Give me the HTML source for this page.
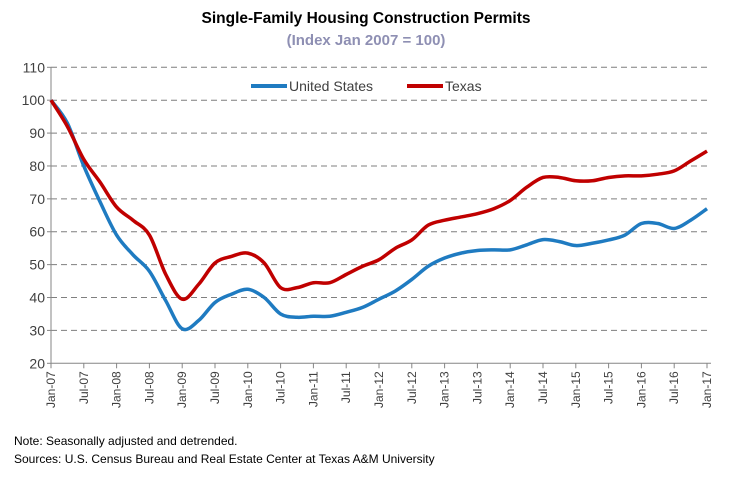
<!DOCTYPE html>
<html><head><meta charset="utf-8"><style>
body{margin:0;background:#fff;font-family:"Liberation Sans",sans-serif}
</style></head><body>
<svg width="729" height="476" viewBox="0 0 729 476" font-family="Liberation Sans, sans-serif">
<text x="366" y="23" text-anchor="middle" font-size="15.5" font-weight="bold" fill="#000">Single-Family Housing Construction Permits</text>
<text x="366" y="45" text-anchor="middle" font-size="15" font-weight="bold" fill="#8e8fb3">(Index Jan 2007 = 100)</text>
<g id="grid"></g>
<g id="axes"></g>
<g id="series"></g>
<g>
<g><line x1="251" y1="86" x2="287" y2="86" stroke="#1f7bc1" stroke-width="4"/><text x="289" y="91" font-size="14" fill="#404040">United States</text></g>
<g><line x1="407" y1="86" x2="443" y2="86" stroke="#c00000" stroke-width="4"/><text x="445" y="91" font-size="14" fill="#404040">Texas</text></g>
</g>
<text x="14" y="445" font-size="12" fill="#000">Note: Seasonally adjusted and detrended.</text>
<text x="14" y="463" font-size="12" fill="#000">Sources: U.S. Census Bureau and Real Estate Center at Texas A&amp;M University</text>
</svg>
<script>
const xLabels=["Jan-07","Jul-07","Jan-08","Jul-08","Jan-09","Jul-09","Jan-10","Jul-10","Jan-11","Jul-11","Jan-12","Jul-12","Jan-13","Jul-13","Jan-14","Jul-14","Jan-15","Jul-15","Jan-16","Jul-16","Jan-17"];
const yTicks=[20,30,40,50,60,70,80,90,100,110];
const usValues=[100,93,80,69,59,53,48,39,30.5,33,38.5,41,42.5,40,35,34,34.3,34.3,35.5,37,39.5,42,45.5,49.5,52,53.5,54.3,54.5,54.5,56,57.6,57,55.8,56.5,57.5,59,62.5,62.5,61,63.5,67];
const txValues=[100,92,82,75,67.5,63.5,59,47,39.5,44,50.5,52.5,53.5,50.5,43,43,44.5,44.5,47,49.5,51.5,55,57.5,62,63.5,64.5,65.5,67,69.5,73.5,76.5,76.5,75.5,75.5,76.5,77,77,77.5,78.5,81.5,84.5];
const NS='http://www.w3.org/2000/svg';
const x0=51,x1=707,yTop=67.3,yBot=363.3;
const xq=i=>x0+(x1-x0)*i/40;
const y=v=>yBot-(v-20)*(yBot-yTop)/90;
function mk(t,a,p){const e=document.createElementNS(NS,t);for(const k in a)e.setAttribute(k,a[k]);p.appendChild(e);return e;}
const grid=document.getElementById('grid'),axes=document.getElementById('axes'),ser=document.getElementById('series');
yTicks.forEach(v=>{
 if(v>20){const g=mk('line',{x1:x0,x2:711,y1:y(v),y2:y(v),stroke:'#7f7f7f','stroke-width':1,'stroke-dasharray':'6,4'},grid);
 
 }
 mk('line',{x1:x0-4,x2:x0,y1:y(v),y2:y(v),stroke:'#868686'},axes);
 const t=mk('text',{x:x0-6,y:y(v)+5,'text-anchor':'end','font-size':14,fill:'#404040'},axes);t.textContent=v;
 
 
});
mk('line',{x1:x0,x2:x0,y1:yTop,y2:yBot,stroke:'#868686'},axes);
mk('line',{x1:x0,x2:711,y1:yBot,y2:yBot,stroke:'#868686'},axes);
xLabels.forEach((l,i)=>{const xx=xq(i*2);
 mk('line',{x1:xx,x2:xx,y1:yBot,y2:yBot+5,stroke:'#868686'},axes);
 const t=mk('text',{x:0,y:0,'text-anchor':'end','font-size':12,fill:'#404040',transform:`translate(${xx+4},${yBot+8}) rotate(-90)`},axes);t.textContent=l;
 
 
});
function path(vals){const p=vals.map((v,i)=>[xq(i),y(v)]);let d=`M${p[0][0]},${p[0][1]}`;
 for(let i=0;i<p.length-1;i++){const a=p[i-1]||p[i],b=p[i],c=p[i+1],e=p[i+2]||c;
 d+=` C${b[0]+(c[0]-a[0])/6},${b[1]+(c[1]-a[1])/6} ${c[0]-(e[0]-b[0])/6},${c[1]-(e[1]-b[1])/6} ${c[0]},${c[1]}`;}return d;}
const pu=mk('path',{d:path(usValues),fill:'none',stroke:'#1f7bc1','stroke-width':3.5,'stroke-linejoin':'round'},ser);


const pt=mk('path',{d:path(txValues),fill:'none',stroke:'#c00000','stroke-width':3.5,'stroke-linejoin':'round'},ser);


</script>
</body></html>
